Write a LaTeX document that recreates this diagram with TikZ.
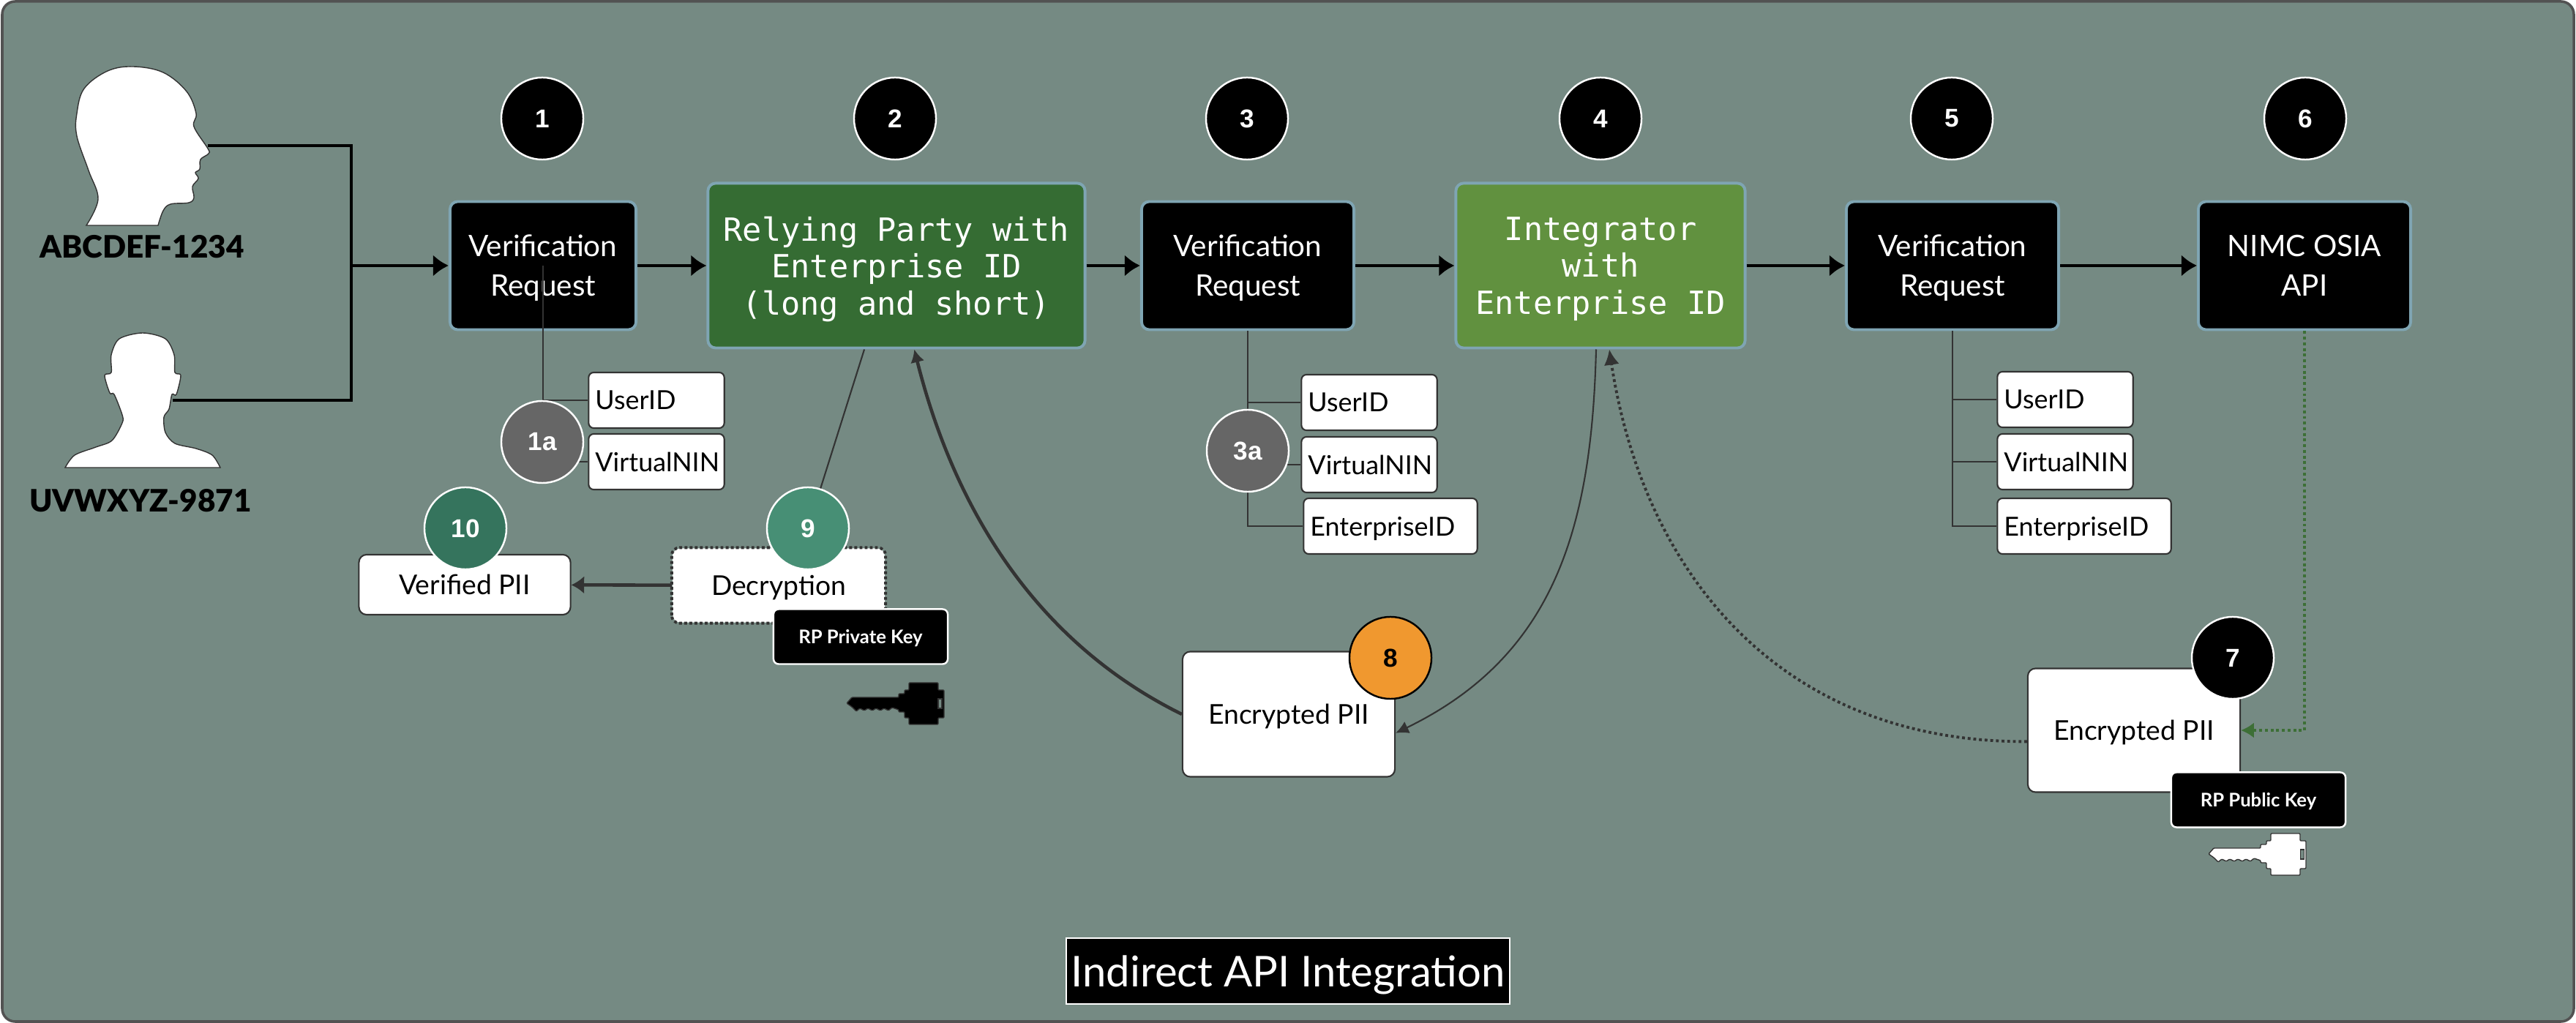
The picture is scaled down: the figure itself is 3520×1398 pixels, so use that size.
\documentclass[tikz,border=0pt]{standalone}
\usepackage{fontspec}
\setmainfont{Lato}
\setmonofont{DejaVu Sans Mono}
\newfontfamily\stepfont{Liberation Sans}
\newfontfamily\namefont{Lato Black}
\usetikzlibrary{arrows.meta}
\definecolor{slate}{HTML}{758A83}
\definecolor{edgeblue}{HTML}{7FA5B3}
\definecolor{darkline}{HTML}{333333}
\definecolor{rpgreen}{HTML}{356C33}
\definecolor{intgreen}{HTML}{61913F}
\definecolor{pathgreen}{HTML}{3D6F36}
\definecolor{stepgrey}{HTML}{666666}
\definecolor{stepten}{HTML}{35745D}
\definecolor{stepnine}{HTML}{478F75}
\definecolor{stepeight}{HTML}{F0982F}

\begin{document}
\begin{tikzpicture}
        [
            x = 0.01cm,
            y = -0.01cm,
            boxed/.style      = {shape=rectangle, rounded corners=3pt, align=center, inner sep=0pt, text depth=0pt},
            flowbox/.style    = {boxed, draw=edgeblue, line width=1.1pt, fill=black, text=white, minimum width=2.9cm, minimum height=1.75cm, font=\fontsize{11.5}{15.4}\selectfont},
            codebox/.style    = {boxed, draw=edgeblue, line width=1.1pt, text=white, minimum height=2.25cm, font=\ttfamily\fontsize{12.4}{14.4}\selectfont},
            fieldbox/.style   = {boxed, rounded corners=2pt, draw=darkline, line width=0.6pt, fill=white, align=left, inner xsep=2.6pt, minimum height=0.76cm, font=\fontsize{10.2}{12}\selectfont},
            paperbox/.style   = {boxed, draw=darkline, line width=0.6pt, fill=white, font=\fontsize{10.6}{14}\selectfont},
            keybox/.style     = {boxed, rounded corners=2pt, draw=white, line width=0.7pt, fill=black, text=white, minimum width=2.38cm, minimum height=0.75cm, font=\bfseries\fontsize{7.3}{9}\selectfont},
            stepdot/.style    = {shape=circle, draw=white, line width=0.7pt, fill=black, text=white, minimum size=1.12cm, inner sep=0pt, font=\stepfont\bfseries\fontsize{10}{11}\selectfont},
            stepsub/.style    = {stepdot, fill=stepgrey},
            personname/.style = {font=\namefont\fontsize{12}{14}\selectfont},
            silhouette/.style = {draw=darkline, line width=0.4pt, fill=white},
            mainline/.style   = {draw, line width=1.4pt, -{Latex[length=6pt,width=8.5pt]}},
            plainline/.style  = {draw=black, line width=1.4pt},
            treeline/.style   = {draw=darkline, line width=0.6pt},
            pics/keyicon/.style 2 args = {code = {
                \draw [draw=darkline, line width=0.4pt, fill=#1, rounded corners=0.3pt]
                    (0,0) -- (7,-8) -- (71,-8) -- (71,-13) -- (79,-13) -- (79,-18) -- (85,-18) -- (85,-28)
                    -- (125,-28) -- (125,-18) -- (133,-18) -- (133,20) -- (125,20) -- (125,29) -- (85,29)
                    -- (85,20) -- (79,20) -- (79,12) -- (71,12) -- (71,9) -- (62,6) -- (57,10) -- (51,7)
                    -- (46,10) -- (40,7) -- (35,10) -- (29,7) -- (24,10) -- (18,7) -- (13,11) -- (7,5) -- cycle;
                \draw [draw=#2, line width=0.3pt, fill=slate] (125,-6) rectangle (130,7);
            }},
        ]
        \useasboundingbox (0,0) rectangle (3520,1398);
        \fill [white] (0,0) rectangle (3520,1398);
        \draw [draw=darkline!85, line width=1pt, fill=slate, rounded corners=5pt] (3,2) rectangle (3517,1396);

        \draw [silhouette] plot [smooth, tension=0.6] coordinates {(118,308) (134,272) (121,233) (105,186) (105,155) (115,121) (147,97) (182,91) (223,99) (255,125) (268,155) (265,173) (284,203) (285,210) (274,218) (273,231) (267,236) (271,244) (263,255) (265,270) (258,277) (233,279) (223,288) (216,308)} -- cycle;
        \draw [silhouette] plot [smooth, tension=0.5] coordinates {(89,639) (102,622) (131,611) (153,602) (167,578) (167,567) (156,539) (150,537) (143,513) (152,509) (152,485) (163,463) (195,455) (226,463) (238,485) (239,509) (247,513) (241,539) (235,539) (231,559) (224,570) (226,591) (239,606) (268,613) (290,622) (301,639)} -- cycle;
        \coordinate (headA) at (284,199);
        \coordinate (headB) at (236,547);
        \coordinate (merge) at (480,363);
        \node [personname] (nameA) at (194,337) {ABCDEF-1234};
        \node [personname] (nameB) at (192,684) {UVWXYZ-9871};

        \node [flowbox, minimum width=2.54cm] (verifyA) at (742,363) {Verification\\Request};
        \node [codebox, fill=rpgreen, minimum width=5.15cm] (relying) at (1225,363) {Relying Party with\\Enterprise ID\\(long and short)};
        \node [flowbox] (verifyB) at (1705,363) {Verification\\Request};
        \node [codebox, fill=intgreen, minimum width=3.95cm] (integrator) at (2187,363) {Integrator\\with\\Enterprise ID};
        \node [flowbox] (verifyC) at (2668,363) {Verification\\Request};
        \node [flowbox] (nimc) at (3149,363) {NIMC OSIA\\API};

        \node [fieldbox, text width=1.67cm] (userA) at (897,547) {UserID};
        \node [fieldbox, text width=1.67cm] (ninA) at (897,631) {VirtualNIN};
        \node [fieldbox, text width=1.67cm] (userB) at (1871,550) {UserID};
        \node [fieldbox, text width=1.67cm] (ninB) at (1871,635) {VirtualNIN};
        \node [fieldbox, text width=2.19cm] (entB) at (1900,719) {EnterpriseID};
        \node [fieldbox, text width=1.67cm] (userC) at (2822,546) {UserID};
        \node [fieldbox, text width=1.67cm] (ninC) at (2822,631) {VirtualNIN};
        \node [fieldbox, text width=2.19cm] (entC) at (2848,719) {EnterpriseID};

        \node [paperbox, minimum width=2.89cm, minimum height=0.82cm] (verified) at (635,799) {Verified PII};
        \node [paperbox, draw=none, minimum width=2.9cm, minimum height=1.01cm] (decrypt) at (1064,800) {Decryption};
        \draw [draw=darkline, line width=1.1pt, dash pattern=on 1.1pt off 0.9pt, rounded corners=3pt] (decrypt.south west) rectangle (decrypt.north east);
        \node [paperbox, minimum width=2.9cm, minimum height=1.71cm] (encA) at (1761,976) {Encrypted PII};
        \node [paperbox, minimum width=2.9cm, minimum height=1.69cm] (encB) at (2916,998) {Encrypted PII};

        \draw [plainline] (headA) -| (merge);
        \draw [plainline] (headB) -| (merge);
        \path [mainline] (merge) -- (verifyA);
        \path [mainline] (verifyA) -- (relying);
        \path [mainline] (relying) -- (verifyB);
        \path [mainline] (verifyB) -- (integrator);
        \path [mainline] (integrator) -- (verifyC);
        \path [mainline] (verifyC) -- (nimc);

        \draw [treeline] (verifyA.center) |- (userA.west);
        \draw [treeline] (verifyA.center) |- (ninA.west);
        \draw [treeline] (verifyB.south) |- (userB.west);
        \draw [treeline] (verifyB.south) |- (ninB.west);
        \draw [treeline] (verifyB.south) |- (entB.west);
        \draw [treeline] (verifyC.south) |- (userC.west);
        \draw [treeline] (verifyC.south) |- (ninC.west);
        \draw [treeline] (verifyC.south) |- (entC.west);

        \draw [draw=darkline, line width=1.3pt, -{Latex[length=5pt,width=5.5pt]}] (encA.west) .. controls (1380,860) and (1290,640) .. (relying.-78);
        \draw [draw=darkline, line width=0.6pt, -{Latex[length=5pt,width=5pt]}] (integrator.-93.5) .. controls (2175,720) and (2125,896) .. (encA.-10.5);
        \draw [draw=darkline, line width=1.1pt, dash pattern=on 1.1pt off 1.1pt, -{Latex[length=6pt,width=6pt]}] (encB.186) .. controls (2430,1015) and (2245,780) .. (integrator.-84.5);
        \draw [draw=pathgreen, line width=1pt, dash pattern=on 1.1pt off 1.1pt, -{Latex[length=5pt,width=6pt]}] (nimc.south) |- (encB.east);
        \draw [draw=darkline, line width=1.3pt, -{Latex[length=5pt,width=7pt]}] (decrypt) -- (verified);

        \node [keybox] (privatekey) at (1176,870) {RP Private Key};
        \node [keybox] (publickey) at (3086,1093) {RP Public Key};
        \pic at (1157,961) {keyicon={black}{darkline}};
        \pic at (3018,1167) {keyicon={white}{darkline}};

        \node [stepdot] (stepA) at (741,162) {1};
        \node [stepdot] (stepB) at (1223,162) {2};
        \node [stepdot] (stepC) at (1704,162) {3};
        \node [stepdot] (stepD) at (2187,162) {4};
        \node [stepdot] (stepE) at (2667,162) {5};
        \node [stepdot] (stepF) at (3150,162) {6};
        \node [stepdot] (stepG) at (3051,899) {7};
        \node [stepdot, draw=black, fill=stepeight, text=black] (stepH) at (1900,899) {8};
        \node [stepdot, fill=stepnine] (stepI) at (1104,722) {9};
        \node [stepdot, fill=stepten] (stepJ) at (636,722) {10};
        \node [stepsub] (stepAsub) at (741,604) {1a};
        \node [stepsub] (stepCsub) at (1705,616) {3a};
        \draw [treeline] (stepI) -- (relying.-111);

        \node [boxed, rounded corners=0pt, draw=white, line width=0.7pt, fill=black, text=white, minimum width=6.06cm, minimum height=0.9cm, font=\fontsize{16.5}{20}\selectfont] (title) at (1760,1327) {Indirect API Integration};
    \end{tikzpicture}
\end{document}
